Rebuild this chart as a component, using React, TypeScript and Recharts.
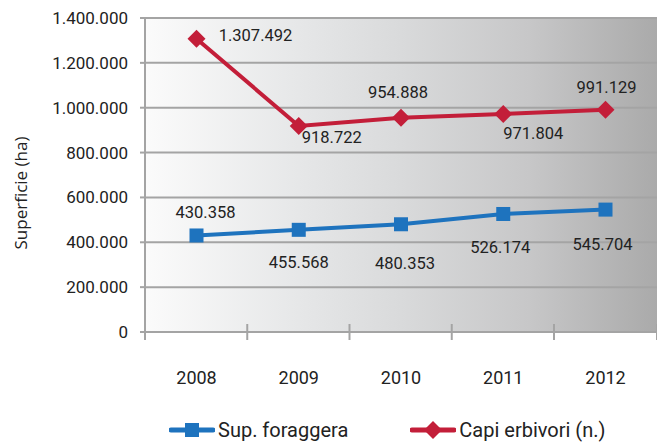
import { LineChart, Line, XAxis, YAxis, CartesianGrid, Legend, LabelList } from 'recharts';

const years = ['2008', '2009', '2010', '2011', '2012'];
const supForaggera = [430358, 455568, 480353, 526174, 545704];
const capiErbivori = [1307492, 918722, 954888, 971804, 991129];
const yTicks = [0, 200000, 400000, 600000, 800000, 1000000, 1200000, 1400000];

// label placement relative to each point (dx, dy)
const supLabelOffsets = [[9, -23], [0, 33], [4, 39], [-3, 34], [-3, 35]];
const capiLabelOffsets = [[59, -3], [33, 12], [-3, -25], [30, 19], [1, -22]];

const data = years.map((year, i) => ({ year, sup: supForaggera[i], capi: capiErbivori[i] }));

const W = 657;
const H = 443;
const TOP = 18;
const X_AXIS_H = 75;
const LEGEND_H = 36;
const PLOT_BOTTOM = H - X_AXIS_H - LEGEND_H;
const HALF_BAND = 51.5;

const BLUE = '#1e73be';
const RED = '#c31e39';
const GRID = '#a4a4a4';
const FONT = 'Roboto, sans-serif';

const fmt = (v: number) => String(v).replace(/\B(?=(\d{3})+(?!\d))/g, '.');

function Square(props: any) {
    const { cx, cy } = props;
    if (cx == null || cy == null) return null;
    return <rect x={cx - 7} y={cy - 7} width={14} height={14} fill={BLUE} />;
}

function Diamond(props: any) {
    const { cx, cy } = props;
    if (cx == null || cy == null) return null;
    const r = 9;
    return <polygon points={`${cx},${cy - r} ${cx + r},${cy} ${cx},${cy + r} ${cx - r},${cy}`} fill={RED} />;
}

function makeLabel(offsets: number[][]) {
    return (props: any) => {
        const { x, y, value, index } = props;
        const [dx, dy] = offsets[index] || [0, 0];
        return (
            <text x={x + dx} y={y + dy} textAnchor="middle" dominantBaseline="central"
                fontFamily={FONT} fontSize={16.5} fill="#222">
                {fmt(value)}
            </text>
        );
    };
}

function XTick(props: any) {
    const { x, payload, index } = props;
    return (
        <g>
            <line x1={x - HALF_BAND} x2={x - HALF_BAND} y1={PLOT_BOTTOM - 8} y2={PLOT_BOTTOM + 8} stroke={GRID} strokeWidth={2} />
            {index === years.length - 1 && (
                <line x1={x + HALF_BAND} x2={x + HALF_BAND} y1={PLOT_BOTTOM - 8} y2={PLOT_BOTTOM + 8} stroke={GRID} strokeWidth={2} />
            )}
            <text x={x} y={PLOT_BOTTOM + 45} textAnchor="middle" dominantBaseline="central"
                fontFamily={FONT} fontSize={18} fill="#222">
                {payload.value}
            </text>
        </g>
    );
}

function YTitle(props: any) {
    const vb = props.viewBox || { x: 0, y: TOP, width: 145, height: PLOT_BOTTOM - TOP };
    const cx = vb.x + 20;
    const cy = vb.y + vb.height / 2 + 18;
    return (
        <text x={cx} y={cy} transform={`rotate(-90, ${cx}, ${cy})`} textAnchor="middle" dominantBaseline="central"
            fontFamily="'Open Sans', sans-serif" fontSize={17} fill="#222">
            Superficie (ha)
        </text>
    );
}

function LegendIcon({ color, square }: { color: string; square: boolean }) {
    return (
        <svg width={46} height={18} style={{ display: 'block' }}>
            <line x1={2} x2={44} y1={9} y2={9} stroke={color} strokeWidth={5} strokeLinecap="round" />
            {square
                ? <rect x={16} y={2} width={14} height={14} fill={color} />
                : <polygon points="23,0 32,9 23,18 14,9" fill={color} />}
        </svg>
    );
}

function LegendContent() {
    const items = [
        { label: 'Sup. foraggera', color: BLUE, square: true },
        { label: 'Capi erbivori (n.)', color: RED, square: false },
    ];
    return (
        <div style={{ display: 'flex', justifyContent: 'flex-start', paddingLeft: 169, paddingTop: 11, alignItems: 'center', height: 24 }}>
            {items.map((it, i) => (
                <div key={it.label} style={{ display: 'flex', alignItems: 'center', marginRight: i === 0 ? 62 : 0 }}>
                    <LegendIcon color={it.color} square={it.square} />
                    <span style={{ fontFamily: FONT, fontSize: 20, lineHeight: '24px', color: '#222', marginLeft: 3 }}>{it.label}</span>
                </div>
            ))}
        </div>
    );
}

export default function App() {
    return (
        <div style={{ width: W, height: H, background: '#fff', overflow: 'hidden' }}>
            <style>{`body { margin: 0; }`}</style>
            <LineChart width={W} height={H} data={data} margin={{ top: TOP, right: 0, left: 0, bottom: 0 }}>
                <defs>
                    <linearGradient id="plotBg" x1="0" y1="0" x2="1" y2="0">
                        <stop offset="0%" stopColor="#fbfbfb" />
                        <stop offset="30%" stopColor="#e6e7e8" />
                        <stop offset="50%" stopColor="#d9dadb" />
                        <stop offset="75%" stopColor="#c7c7c8" />
                        <stop offset="100%" stopColor="#aaaaaa" />
                    </linearGradient>
                </defs>
                <CartesianGrid vertical={false} stroke={GRID} strokeWidth={2} fill="url(#plotBg)" fillOpacity={1} />
                <XAxis
                    dataKey="year"
                    height={X_AXIS_H}
                    padding={{ left: HALF_BAND, right: HALF_BAND }}
                    axisLine={{ stroke: GRID, strokeWidth: 2 }}
                    tickLine={false}
                    tick={XTick}
                    interval={0}
                />
                <YAxis
                    width={145}
                    domain={[0, 1400000]}
                    ticks={yTicks}
                    tickFormatter={fmt}
                    tickSize={5}
                    tickMargin={12}
                    axisLine={{ stroke: GRID, strokeWidth: 2 }}
                    tickLine={{ stroke: GRID, strokeWidth: 2 }}
                    tick={{ fontFamily: FONT, fontSize: 17, fill: '#222' }}
                    label={YTitle}
                />
                <Legend verticalAlign="bottom" height={LEGEND_H} content={LegendContent} />
                <Line
                    dataKey="sup"
                    stroke={BLUE}
                    strokeWidth={4}
                    dot={Square}
                    activeDot={false}
                    isAnimationActive={false}
                >
                    <LabelList dataKey="sup" content={makeLabel(supLabelOffsets)} />
                </Line>
                <Line
                    dataKey="capi"
                    stroke={RED}
                    strokeWidth={4}
                    dot={Diamond}
                    activeDot={false}
                    isAnimationActive={false}
                >
                    <LabelList dataKey="capi" content={makeLabel(capiLabelOffsets)} />
                </Line>
            </LineChart>
        </div>
    );
}
